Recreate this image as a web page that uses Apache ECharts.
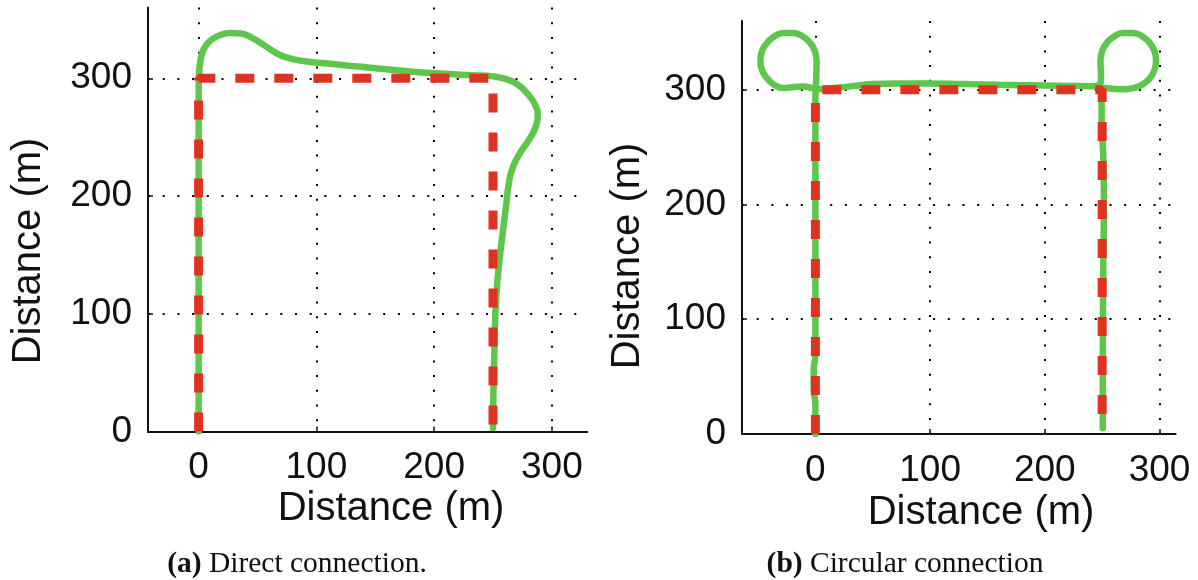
<!DOCTYPE html>
<html>
<head>
<meta charset="utf-8">
<script src="https://cdn.jsdelivr.net/npm/echarts@6/dist/echarts.min.js"></script>
<style>
  html, body { margin: 0; padding: 0; background: #ffffff; }
  #chart { width: 1198px; height: 580px; }
</style>
</head>
<body>
<div id="chart"></div>
<script>
// Tick values shared by both panels (metres)
const tickValues = [0, 100, 200, 300];

// (a) Direct connection: planned route (dashed) and driven path (solid)
const directPlanX = [0, 0, 250, 250];
const directPlanY = [0, 300, 300, 0];
const directPathX = [0, 0, 0, 0.3, 1.5, 4.5, 10, 18, 27, 36, 45, 55, 65, 75, 90, 110, 130, 150, 177, 205, 233, 250,
  262, 272, 280, 286, 288, 286, 280, 272, 266, 263, 261.5, 259, 256, 253.5, 252, 251, 250.3, 250];
const directPathY = [0, 150, 290, 302, 315, 325, 332, 336.5, 338.5, 338, 334.5, 328.5, 322, 317.5, 314.5, 312.5, 310.5, 308.5, 306, 304, 302.5, 301.6,
  299, 294, 286, 277, 268, 258, 247, 235, 222, 208, 195, 175, 150, 125, 100, 60, 30, 3];

// (b) Circular connection: planned route (dashed) and driven path (solid)
const circularPlanX = [0, 0, 250, 250];
const circularPlanY = [0, 300, 300, 0];
const circularPathX = [0, 0, -1.5, -1.5, 0, 0, 0, 0, 0.8,
  1, -0.5, -4.5, -11, -19, -28, -36, -42, -46.5, -48, -46.5, -42, -36, -28, -19, -10, -3, 4,
  12, 21, 35, 50, 70, 97, 130, 166, 200, 224, 240, 247,
  249, 248.5, 250, 254, 260.5, 268, 277, 285, 291.5, 295.5, 297, 295.5, 291.5, 285, 277, 268, 259, 252,
  249.5, 249.5, 251, 251.5, 251, 250.5, 250.5];
const circularPathY = [0, 25, 40, 55, 70, 150, 250, 290, 312,
  325, 334, 341, 346.5, 349.5, 349.5, 346.5, 341, 334, 325.5, 317, 310, 304.5, 301.5, 302.5, 303, 301.5, 300.8,
  301.2, 302, 303.5, 305, 305.5, 305.5, 305, 304.3, 303.8, 303.4, 303.2, 304,
  312, 325, 334, 341, 346.5, 349.5, 349.5, 346.5, 341, 334, 325.5, 317, 310, 304.5, 301.5, 300.5, 301, 301.5,
  292, 275, 240, 200, 150, 50, 5];

const pairs = (xs, ys) => xs.map((x, i) => [x, ys[i]]);

const GREEN = '#5ec64c';
const RED = '#e03221';
const SANS = '"Liberation Sans", Arial, Helvetica, sans-serif';
const SERIF = '"Liberation Serif", "Times New Roman", serif';

function xAxisFor(gridIndex, min, max) {
  return {
    type: 'value', gridIndex, min, max,
    axisLine: { show: true, onZero: false, lineStyle: { color: '#111', width: 2 } },
    axisTick: { show: true, inside: true, length: 5, customValues: tickValues, lineStyle: { color: '#111', width: 1.5 } },
    axisLabel: { show: true, customValues: tickValues, margin: 18, fontSize: 37, fontFamily: SANS, color: '#111' },
    splitLine: { show: true, lineStyle: { color: '#000', width: 2, type: [2, 12.7] } }
  };
}

function yAxisFor(gridIndex) {
  return {
    type: 'value', gridIndex, min: 0, max: 360,
    axisLine: { show: true, onZero: false, lineStyle: { color: '#111', width: 2 } },
    axisTick: { show: true, inside: true, length: 5, customValues: tickValues, lineStyle: { color: '#111', width: 1.5 } },
    axisLabel: { show: true, customValues: tickValues, margin: 16, fontSize: 37, fontFamily: SANS, color: '#111' },
    splitLine: { show: true, lineStyle: { color: '#000', width: 2, type: [2, 12.7] } }
  };
}

function pathSeries(idx, xs, ys) {
  return {
    type: 'line', xAxisIndex: idx, yAxisIndex: idx,
    data: pairs(xs, ys), smooth: 0.5, symbol: 'none', z: 3,
    lineStyle: { color: GREEN, width: 6.5, cap: 'round', join: 'round' }
  };
}

function planSeries(idx, xs, ys) {
  return {
    type: 'line', xAxisIndex: idx, yAxisIndex: idx,
    data: pairs(xs, ys), smooth: false, symbol: 'none', z: 4,
    lineStyle: { color: RED, width: 9, type: [19, 20], cap: 'butt' }
  };
}

function titleText(x, y, rotation) {
  return {
    type: 'text', x, y, rotation,
    style: { text: 'Distance (m)', fontSize: 40, fontFamily: SANS, fill: '#111', align: 'center', verticalAlign: 'middle' }
  };
}

function captionText(x, y, tag, label) {
  return {
    type: 'text', x, y,
    style: {
      text: '{b|' + tag + '} ' + label,
      fontSize: 29.5, fontFamily: SERIF, fill: '#111', align: 'center', verticalAlign: 'middle',
      rich: { b: { fontSize: 29.5, fontFamily: SERIF, fontWeight: 'bold', fill: '#111' } }
    }
  };
}

const chart = echarts.init(document.getElementById('chart'), null, { renderer: 'canvas' });
chart.setOption({
  backgroundColor: '#ffffff',
  animation: false,
  grid: [
    { left: 148, top: 7.6, width: 439.2, height: 424 },
    { left: 742, top: 21, width: 433.6, height: 412.9 }
  ],
  xAxis: [xAxisFor(0, -43, 330), xAxisFor(1, -64, 314)],
  yAxis: [yAxisFor(0), yAxisFor(1)],
  series: [
    pathSeries(0, directPathX, directPathY),
    planSeries(0, directPlanX, directPlanY),
    pathSeries(1, circularPathX, circularPathY),
    planSeries(1, circularPlanX, circularPlanY)
  ],
  graphic: [
    titleText(391, 509, 0),
    titleText(29, 251, Math.PI / 2),
    titleText(981, 513, 0),
    titleText(628, 256, Math.PI / 2),
    captionText(297, 564, '(a)', 'Direct connection.'),
    captionText(905, 564, '(b)', 'Circular connection')
  ]
});
</script>
</body>
</html>
